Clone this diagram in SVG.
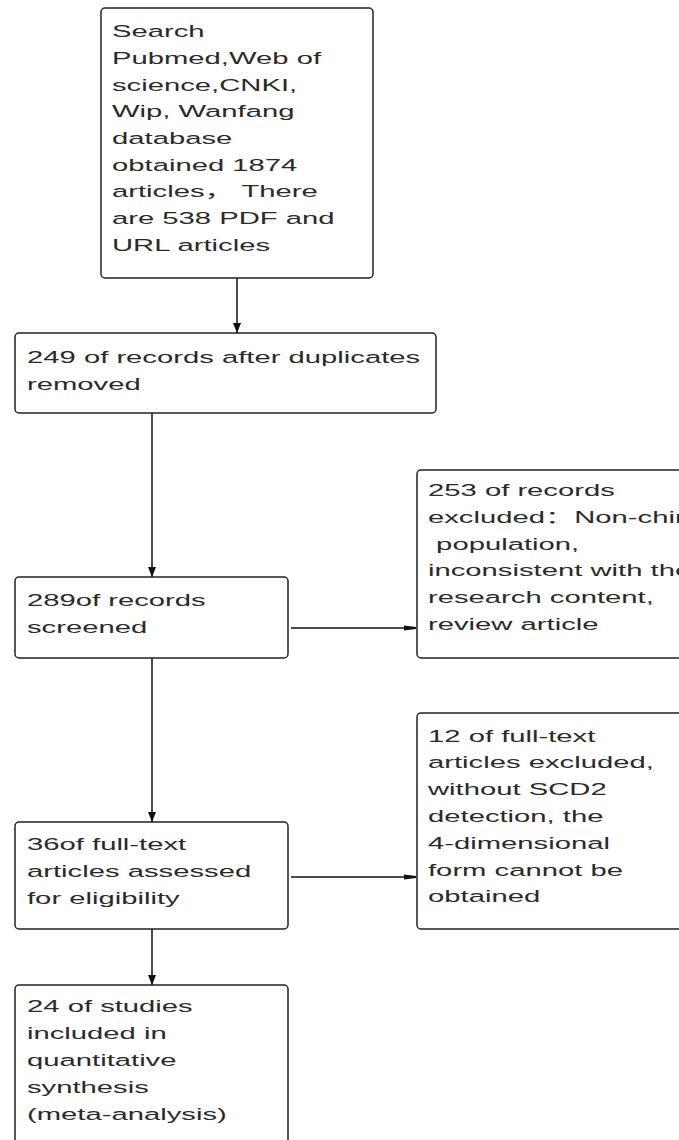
<svg xmlns="http://www.w3.org/2000/svg" width="679" height="1140" viewBox="0 0 679 1140">
<style>
.box{fill:#fff;stroke:#222;stroke-width:1.5}
.t{font-family:"Liberation Sans","Noto Sans CJK SC",Arial,sans-serif;font-size:17px;fill:#2a2a2a}
.c{stroke:#111;stroke-width:1.5;fill:none}
</style>
<defs>
<marker id="ah" viewBox="0 0 10 8" refX="10" refY="4" markerWidth="10" markerHeight="8" markerUnits="userSpaceOnUse" orient="auto">
<path d="M0,0 L10,4 L0,8 Z" fill="#111"/>
</marker>
<marker id="ah2" viewBox="0 0 12 6" refX="12" refY="3" markerWidth="12" markerHeight="6" markerUnits="userSpaceOnUse" orient="auto">
<path d="M0,0.5 L12,2 L12,4 L0,5.5 Z" fill="#111"/>
</marker>
</defs>
<rect width="679" height="1140" fill="#fff"/>
<g id="connectors">
<line class="c" x1="237" y1="278" x2="237" y2="333" marker-end="url(#ah)"/>
<line class="c" x1="152" y1="413" x2="152" y2="577" marker-end="url(#ah)"/>
<line class="c" x1="291" y1="628" x2="416" y2="628" marker-end="url(#ah2)"/>
<line class="c" x1="152" y1="658" x2="152" y2="822" marker-end="url(#ah)"/>
<line class="c" x1="291" y1="877" x2="416" y2="877" marker-end="url(#ah2)"/>
<line class="c" x1="152" y1="929" x2="152" y2="985" marker-end="url(#ah)"/>
</g>
<g id="search">
<rect class="box" x="101" y="8" width="272" height="270" rx="4"/>
<text class="t" transform="translate(112,37.3) scale(1.72,1)">
<tspan x="0" y="0">Search</tspan>
<tspan x="0" dy="26.7">Pubmed,Web of</tspan>
<tspan x="0" dy="26.7">science,CNKI,</tspan>
<tspan x="0" dy="26.7">Wip, Wanfang</tspan>
<tspan x="0" dy="26.7">database</tspan>
<tspan x="0" dy="26.7">obtained 1874</tspan>
<tspan x="0" dy="26.7">articles， There</tspan>
<tspan x="0" dy="26.7">are 538 PDF and</tspan>
<tspan x="0" dy="26.7">URL articles</tspan>
</text>
</g>
<g id="dedup">
<rect class="box" x="15" y="333" width="421" height="80" rx="4"/>
<text class="t" transform="translate(27,363) scale(1.72,1)">
<tspan x="0" y="0">249 of records after duplicates</tspan>
<tspan x="0" dy="27">removed</tspan>
</text>
</g>
<g id="screened">
<rect class="box" x="15" y="577" width="273" height="81" rx="4"/>
<text class="t" transform="translate(27,606) scale(1.72,1)">
<tspan x="0" y="0">289of records</tspan>
<tspan x="0" dy="27">screened</tspan>
</text>
</g>
<g id="excluded1">
<rect class="box" x="417" y="470" width="290" height="188" rx="4"/>
<text class="t" transform="translate(428,496) scale(1.72,1)">
<tspan x="0" y="0">253 of records</tspan>
<tspan x="0" dy="26.8">excluded：Non-chinese</tspan>
<tspan x="0" dy="26.8">&#160;population,</tspan>
<tspan x="0" dy="26.8">inconsistent with the</tspan>
<tspan x="0" dy="26.8">research content,</tspan>
<tspan x="0" dy="26.8">review article</tspan>
</text>
</g>
<g id="assessed">
<rect class="box" x="15" y="822" width="273" height="107" rx="4"/>
<text class="t" transform="translate(27,850) scale(1.72,1)">
<tspan x="0" y="0">36of full-text</tspan>
<tspan x="0" dy="26.8">articles assessed</tspan>
<tspan x="0" dy="26.8">for eligibility</tspan>
</text>
</g>
<g id="excluded2">
<rect class="box" x="417" y="713" width="290" height="216" rx="4"/>
<text class="t" transform="translate(428,741.7) scale(1.72,1)">
<tspan x="0" y="0">12 of full-text</tspan>
<tspan x="0" dy="26.8">articles excluded,</tspan>
<tspan x="0" dy="26.8">without SCD2</tspan>
<tspan x="0" dy="26.8">detection, the</tspan>
<tspan x="0" dy="26.8">4-dimensional</tspan>
<tspan x="0" dy="26.8">form cannot be</tspan>
<tspan x="0" dy="26.8">obtained</tspan>
</text>
</g>
<g id="included">
<rect class="box" x="15" y="985" width="273" height="180" rx="4"/>
<text class="t" transform="translate(27,1011.7) scale(1.72,1)">
<tspan x="0" y="0">24 of studies</tspan>
<tspan x="0" dy="27">included in</tspan>
<tspan x="0" dy="27">quantitative</tspan>
<tspan x="0" dy="27">synthesis</tspan>
<tspan x="0" dy="27">(meta-analysis)</tspan>
</text>
</g>
</svg>
